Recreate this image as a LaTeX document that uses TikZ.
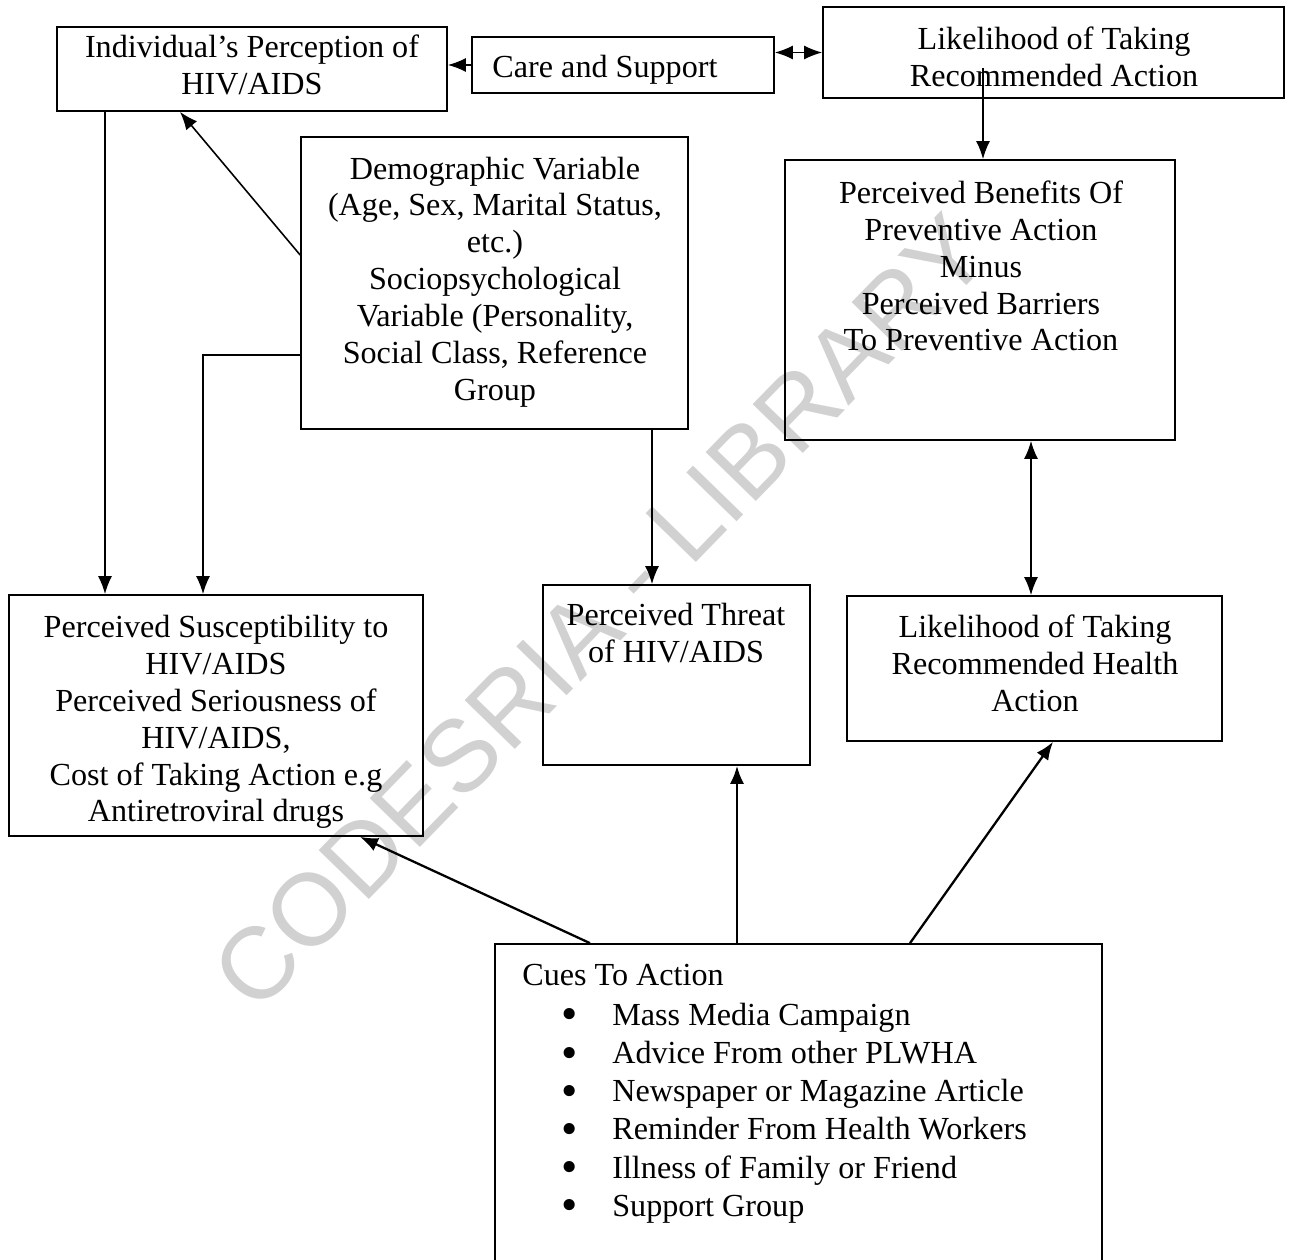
\documentclass[tikz,border=0pt]{standalone}
\usepackage{fontspec}
\setmainfont{Liberation Serif}
\newfontfamily\wmfont{Liberation Sans}
\usetikzlibrary{arrows.meta}
\newcommand{\bigbul}{\raisebox{-0.14em}{\scalebox{1.45}{\textbullet}}}
\begin{document}
\begin{tikzpicture}[x=0.02cm,y=-0.02cm,
  box/.style={draw, line width=1pt, inner sep=0pt},
  txt/.style={inner sep=0pt, align=center, font=\fontsize{18.3}{21}\selectfont},
  arr/.style={line width=0.9pt, -{Latex[length=0.36cm,width=0.28cm]}},
  darr/.style={line width=0.9pt, {Latex[length=0.36cm,width=0.28cm]}-{Latex[length=0.36cm,width=0.28cm]}},
  carr/.style={line width=1.3pt, -{Latex[length=0.36cm,width=0.28cm]}},
  wm/.style={text=black!18, font=\wmfont\fontsize{58}{60}\selectfont, inner sep=0pt}]
\useasboundingbox (0,0) rectangle (1289,1260);
% watermark
\node[wm, rotate=45.8] (wmark) at (600,612) {CODESRIA - LIBRARY};
% boxes
\node[box, minimum width=7.8cm, minimum height=1.68cm] (ind) at (252,69) {};
\node[box, minimum width=6.04cm, minimum height=1.12cm] (care) at (623,65) {};
\node[box, minimum width=9.22cm, minimum height=1.82cm] (lik) at (1053.5,52.5) {};
\node[box, minimum width=7.74cm, minimum height=5.84cm] (demo) at (494.5,283) {};
\node[box, minimum width=7.8cm, minimum height=5.6cm] (ben) at (980,300) {};
\node[box, minimum width=8.28cm, minimum height=4.82cm] (sus) at (216,715.5) {};
\node[box, minimum width=5.34cm, minimum height=3.6cm] (thr) at (676.5,675) {};
\node[box, minimum width=7.5cm, minimum height=2.9cm] (hlt) at (1034.5,668.5) {};
\node[box, minimum width=12.14cm, minimum height=6.62cm] (cue) at (798.5,1109.5) {};
% texts
\node[txt] (tind) at (252,65) {Individual’s Perception of\\HIV/AIDS};
\node[txt] (tcare) at (605,70) {Care and Support};
\node[txt] (tlik) at (1054,56.5) {Likelihood of Taking\\Recommended Action};
\node[txt] (tdemo) at (495,282) {Demographic Variable\\(Age, Sex, Marital Status,\\etc.)\\Sociopsychological\\Variable (Personality,\\Social Class, Reference\\Group};
\node[txt] (tben) at (981,266) {Perceived Benefits Of\\Preventive Action\\Minus\\Perceived Barriers\\To Preventive Action};
\node[txt] (tsus) at (216,722) {Perceived Susceptibility to\\HIV/AIDS\\Perceived Seriousness of\\HIV/AIDS,\\Cost of Taking Action e.g\\Antiretroviral drugs};
\node[txt] (tthr) at (676,633.5) {Perceived Threat\\of HIV/AIDS};
\node[txt] (thlt) at (1035,663) {Likelihood of Taking\\Recommended Health\\Action};
\node[txt, anchor=west] (tcue) at (522,978) {\strut Cues To Action};
\foreach \t [count=\i] in {Mass Media Campaign, Advice From other PLWHA, Newspaper or Magazine Article, Reminder From Health Workers, Illness of Family or Friend, Support Group}
  \node[txt, anchor=west] (item\i) at (561,{979.8+38.2*\i}) {\strut\makebox[1.02cm][l]{\bigbul}\t};
% connectors
\coordinate (likin) at (983,68);
\draw[arr] (care.west) -- (care.west -| ind.east);
\draw[darr] (care.east |- lik.west) -- (lik.west);
\draw[arr] (likin) -- (likin |- ben.north);
\draw[arr] (0,255 -| demo.west) -- (180,0 |- ind.south);
\draw[arr] (105,0 |- ind.south) -- (105,0 |- sus.north);
\draw[arr] (0,355 -| demo.west) -| (203,0 |- sus.north);
\draw[arr] (652,0 |- demo.south) -- (652,0 |- thr.north);
\draw[darr] (1031,0 |- ben.south) -- (1031,0 |- hlt.north);
\draw[carr] (590,0 |- cue.north) -- (360,0 |- sus.south);
\draw[carr] (737,0 |- cue.north) -- (737,0 |- thr.south);
\draw[carr] (910,0 |- cue.north) -- (1053,0 |- hlt.south);
\end{tikzpicture}
\end{document}
